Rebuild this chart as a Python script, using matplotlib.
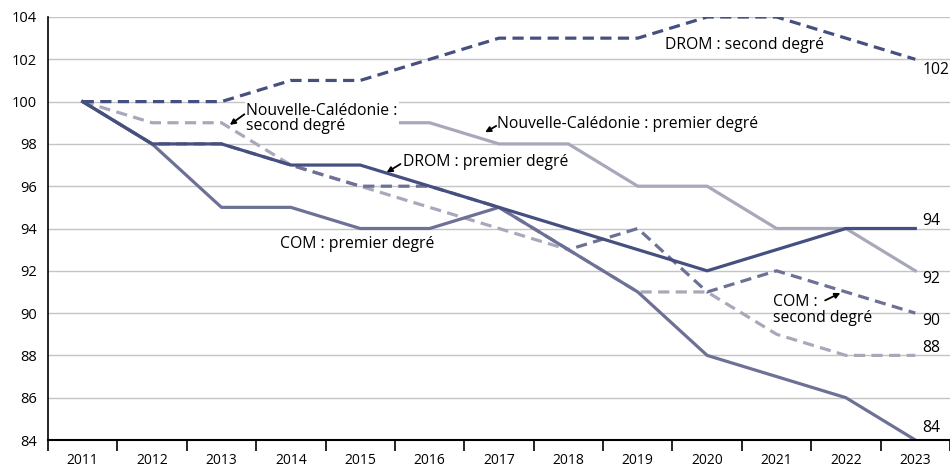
import numpy as np
import matplotlib
matplotlib.use("Agg")
import matplotlib.pyplot as plt

plt.rcParams['font.family'] = ['Open Sans', 'DejaVu Sans']

years = [str(y) for y in range(2011, 2024)]
nan = np.nan

drom_second = [100, 100, 100, 101, 101, 102, 103, 103, 103, 104, 104, 103, 102]
drom_premier = [100, 98, 98, 97, 97, 96, 95, 94, 93, 92, 93, 94, 94]
nc_premier = [nan, nan, nan, nan, 99, 99, 98, 98, 96, 96, 94, 94, 92]
nc_second = [100, 99, 99, 97, 96, 95, 94, 93, 91, 91, 89, 88, 88]
com_premier = [100, 98, 95, 95, 94, 94, 95, 93, 91, 88, 87, 86, 84]
com_second = [100, 98, 98, 97, 96, 96, 95, 93, 94, 91, 92, 91, 90]

c_drom = "#465080"
c_com = "#6d7196"
c_nc = "#a7a9bb"
dash = (0, (3.5, 2))

fig = plt.figure(figsize=(9.5, 4.68), dpi=100)
ax = fig.add_axes([48 / 950, 28 / 468, 902 / 950, 423 / 468])

x = np.arange(len(years))
lw = 2.3
ax.plot(x, nc_second, color=c_nc, lw=lw, ls=dash, zorder=3)
ax.plot(x, nc_premier, color=c_nc, lw=lw, zorder=3)
ax.plot(x, com_second, color=c_com, lw=lw, ls=dash, zorder=4)
ax.plot(x, com_premier, color=c_com, lw=lw, zorder=4)
ax.plot(x, drom_second, color=c_drom, lw=lw, ls=dash, zorder=5)
ax.plot(x, drom_premier, color=c_drom, lw=lw, zorder=5)

ax.set_xlim(-0.5, len(years) - 0.5)
ax.set_ylim(84, 104)
ax.set_yticks(range(84, 105, 2))
ax.set_xticks(x)
ax.set_xticklabels(years)
ax.set_xticks(np.arange(-0.5, len(years), 1), minor=True)
ax.tick_params(axis='x', which='major', length=0, pad=9, labelsize=10)
ax.tick_params(axis='x', which='minor', length=8, width=1.2, color='black')
ax.tick_params(axis='y', length=0, pad=8, labelsize=10.5)
ax.grid(axis='y', color='#c4c4c4', lw=1, zorder=0)
for s in ['top', 'right']:
    ax.spines[s].set_visible(False)
ax.spines['left'].set_linewidth(1.2)
ax.spines['bottom'].set_linewidth(1.5)
ax.spines['bottom'].set_zorder(6)

fs = 11.3
arrow = dict(arrowstyle='-|>', color='black', lw=1.3, mutation_scale=8,
             shrinkA=0, shrinkB=0)

ax.text(8.39, 102.68, "DROM : second degré", fontsize=fs, va='center', ha='left')
ax.text(2.36, 99.2, "Nouvelle-Calédonie :\nsecond degré", fontsize=fs,
        va='center', ha='left', linespacing=0.95, zorder=6,
        bbox=dict(fc='white', ec='none', pad=1))
ax.annotate("", xy=(2.12, 98.9), xytext=(2.33, 99.4), arrowprops=arrow, zorder=7)
ax.text(5.97, 98.94, "Nouvelle-Calédonie : premier degré", fontsize=fs,
        va='center', ha='left')
ax.annotate("", xy=(5.8, 98.55), xytext=(5.96, 98.85), arrowprops=arrow)
ax.text(4.61, 97.14, "DROM : premier degré", fontsize=fs, va='center', ha='left')
ax.annotate("", xy=(4.38, 96.65), xytext=(4.58, 97.05), arrowprops=arrow)
ax.text(2.85, 93.27, "COM : premier degré", fontsize=fs, va='center', ha='left')
ax.text(9.95, 90.15, "COM :\nsecond degré", fontsize=fs, va='center', ha='left',
        linespacing=0.95)
ax.annotate("", xy=(10.92, 90.95), xytext=(10.7, 90.6), arrowprops=arrow)

end_labels = [(drom_second, -0.5), (drom_premier, 0.35), (nc_premier, -0.4),
              (com_second, -0.35), (nc_second, 0.35), (com_premier, 0.55)]
for series, dy in end_labels:
    ax.text(len(years) - 1 + 0.1, series[-1] + dy, str(series[-1]),
            fontsize=fs, va='center', ha='left', clip_on=False)

fig.savefig("out.png", dpi=100)
